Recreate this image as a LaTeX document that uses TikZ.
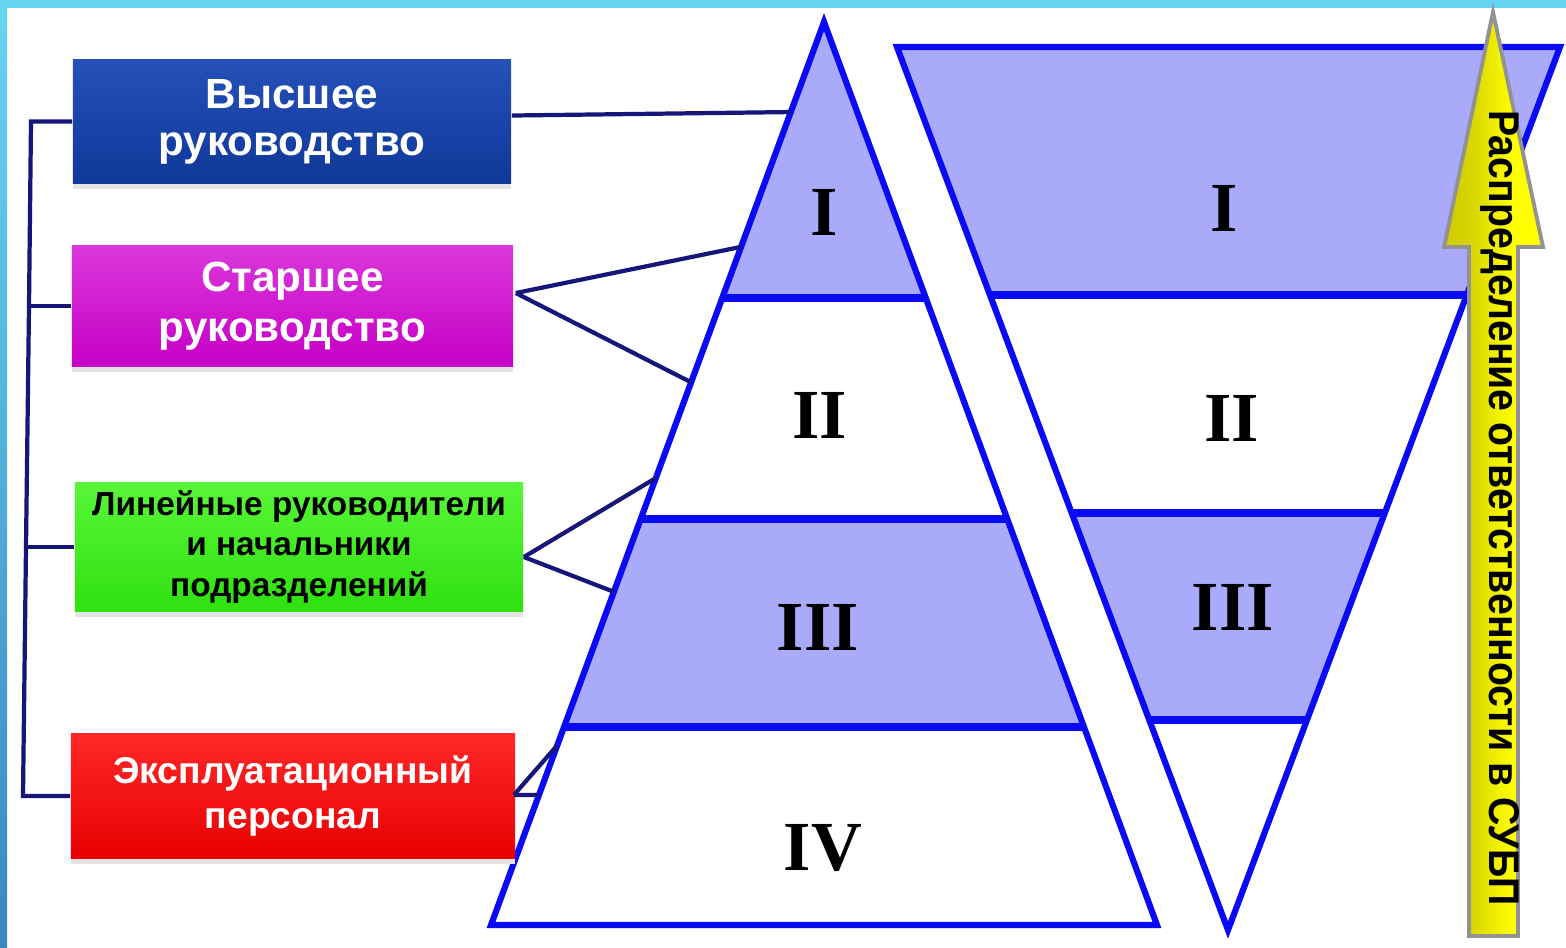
\documentclass[tikz,border=0pt]{standalone}
\usepackage{fontspec}
\setmainfont{Liberation Sans}
\newfontfamily\romanf{Liberation Serif}
\usetikzlibrary{calc}
\definecolor{framecyan}{HTML}{68D5F0}
\definecolor{frameblue}{HTML}{3A88C0}
\definecolor{bandfill}{HTML}{AAAAFA}
\definecolor{outblue}{HTML}{0A0AF5}
\definecolor{navy}{HTML}{16167A}
\definecolor{blueT}{HTML}{2550B8}
\definecolor{blueB}{HTML}{10389A}
\definecolor{magT}{HTML}{DA38DA}
\definecolor{magB}{HTML}{C600C6}
\definecolor{greenT}{HTML}{58F638}
\definecolor{greenB}{HTML}{30E010}
\definecolor{redT}{HTML}{FF2828}
\definecolor{redB}{HTML}{E80000}
\definecolor{arrgray}{HTML}{929292}
\definecolor{arrL}{HTML}{BDB800}
\definecolor{arrM}{HTML}{FFFF00}
\definecolor{arrR}{HTML}{F6F660}
\pgfdeclarehorizontalshading{arrowshade}{100bp}{
  color(0bp)=(arrL); color(38bp)=(arrL!60!arrM); color(60bp)=(arrM); color(85bp)=(arrM); color(100bp)=(arrR)}
\tikzset{
  box/.style={inner sep=0pt, align=center},
  outline/.style={draw=outblue, line width=1.75pt, line join=miter},
  bandline/.style={draw=outblue, line width=2.2pt},
  conn/.style={draw=navy, line width=1.2pt},
  numeral/.style={font=\romanf\fontsize{20}{22}\selectfont\bfseries, text=black, inner sep=0pt},
  boxshadow/.style={fill=gray!22}
}
\begin{document}
\begin{tikzpicture}[x=0.01cm,y=-0.01cm]
\useasboundingbox (0,0) rectangle (1566,947);
\fill[white] (0,0) rectangle (1566,947);
\fill[framecyan] (0,0) rectangle (1566,8);
\shade[top color=framecyan, bottom color=frameblue] (0,0) rectangle (7,947);

% ---------- pyramid ----------
\coordinate (PA) at (824,22);
\coordinate (PL) at (491,925);
\coordinate (PR) at (1157,925);
\coordinate (PL1) at ($(PA)!0.30565!(PL)$);
\coordinate (PR1) at ($(PA)!0.30565!(PR)$);
\coordinate (PL2) at ($(PA)!0.55039!(PL)$);
\coordinate (PR2) at ($(PA)!0.55039!(PR)$);
\coordinate (PL3) at ($(PA)!0.78073!(PL)$);
\coordinate (PR3) at ($(PA)!0.78073!(PR)$);
\fill[bandfill] (PA) -- (PL1) -- (PR1) -- cycle;
\fill[bandfill] (PL2) -- (PL3) -- (PR3) -- (PR2) -- cycle;
\draw[outline] (PA) -- (PL) -- (PR) -- cycle;
\draw[bandline] (PL1) -- (PR1);
\draw[bandline] (PL2) -- (PR2);
\draw[bandline] (PL3) -- (PR3);
\node[numeral] (pI) at (824,212) {I};
\node[numeral] (pII) at (820,415) {II};
\node[numeral] (pIII) at (818,627) {III};
\node[numeral] (pIV) at (823,848) {IV};

% ---------- inverted triangle ----------
\coordinate (VL) at (897,47);
\coordinate (VR) at (1560,47);
\coordinate (VB) at (1228,930);
\coordinate (VL1) at ($(VL)!0.28086!(VB)$);
\coordinate (VR1) at ($(VR)!0.28086!(VB)$);
\coordinate (VL2) at ($(VL)!0.52775!(VB)$);
\coordinate (VR2) at ($(VR)!0.52775!(VB)$);
\coordinate (VL3) at ($(VL)!0.76217!(VB)$);
\coordinate (VR3) at ($(VR)!0.76217!(VB)$);
\fill[bandfill] (VL) -- (VR) -- (VR1) -- (VL1) -- cycle;
\fill[bandfill] (VL2) -- (VR2) -- (VR3) -- (VL3) -- cycle;
\draw[outline] (VL) -- (VR) -- (VB) -- cycle;
\draw[bandline] (VL1) -- (VR1);
\draw[bandline] (VL2) -- (VR2);
\draw[bandline] (VL3) -- (VR3);
\node[numeral] (vI) at (1224,208) {I};
\node[numeral] (vII) at (1232,418) {II};
\node[numeral] (vIII) at (1233,607) {III};

% ---------- arrow ----------
\shade[draw=arrgray, line width=1.1pt, line join=miter, shading=arrowshade]
  (1493,12) -- (1543,247) -- (1518,247) -- (1518,936) -- (1469,936) -- (1469,247) -- (1444,247) -- cycle;
\node[rotate=-90, inner sep=0pt] (arrtext) at (1500,508)
  {\resizebox{7.95cm}{0.3cm}{\bfseries Распределение ответственности в СУБП}};

% ---------- boxes ----------
\fill[boxshadow] (73,184) rectangle (511,189);
\fill[boxshadow] (72,367) rectangle (513,372);
\fill[boxshadow] (75,612) rectangle (523,617);
\fill[boxshadow] (71,859) rectangle (515,864);
\node[box, minimum width=4.38cm, minimum height=1.23cm, top color=blueT, bottom color=blueB,
  text=white, font=\fontsize{12}{13.4}\selectfont\bfseries] (blue) at (292,121.5) {Высшее\\руководство};
\node[box, minimum width=4.41cm, minimum height=1.20cm, top color=magT, bottom color=magB,
  text=white, font=\fontsize{12}{14.2}\selectfont\bfseries] (mag) at (292.5,306) {Старшее\\руководство};
\node[box, minimum width=4.48cm, minimum height=1.28cm, top color=greenT, bottom color=greenB,
  text=black, font=\fontsize{9.5}{11.4}\selectfont\bfseries] (green) at (299,547) {Линейные руководители\\и начальники\\подразделений};
\node[box, minimum width=4.44cm, minimum height=1.25cm, top color=redT, bottom color=redB,
  text=white, font=\fontsize{10.6}{13}\selectfont\bfseries] (red) at (293,796) {Эксплуатационный\\персонал};

% ---------- bracket ----------
\coordinate (k1) at (31,121.5);
\coordinate (k2) at (29,306);
\coordinate (k3) at (26,547);
\coordinate (k4) at (23,796);
\draw[conn] (blue.west) -- (k1) -- (k2) -- (k3) -- (k4) -- (red.west);
\draw[conn] (mag.west) -- (k2);
\draw[conn] (green.west) -- (k3);

% ---------- connectors to pyramid ----------
\coordinate (e1) at ($(PA)!0.0997!(PL)$);
\coordinate (e2) at ($(PA)!0.249!(PL)$);
\coordinate (e3) at ($(PA)!0.399!(PL)$);
\coordinate (e4) at ($(PA)!0.505!(PL)$);
\coordinate (e5) at ($(PA)!0.631!(PL)$);
\coordinate (e6) at ($(PA)!0.801!(PL)$);
\coordinate (e7) at ($(PA)!0.856!(PL)$);
\coordinate (s1) at ($(blue.east)+(0,-6)$);
\coordinate (s2) at ($(mag.east)+(2,-13)$);
\coordinate (s3) at ($(green.east)+(0,10)$);
\coordinate (s4) at ($(red.east)+(-2,-1)$);
\draw[conn] (s1) -- (e1);
\draw[conn] (s2) -- (e2);
\draw[conn] (s2) -- (e3);
\draw[conn] (s3) -- (e4);
\draw[conn] (s3) -- (e5);
\draw[conn] (s4) -- (e6);
\draw[conn] (s4) -- (e7);
\end{tikzpicture}
\end{document}
